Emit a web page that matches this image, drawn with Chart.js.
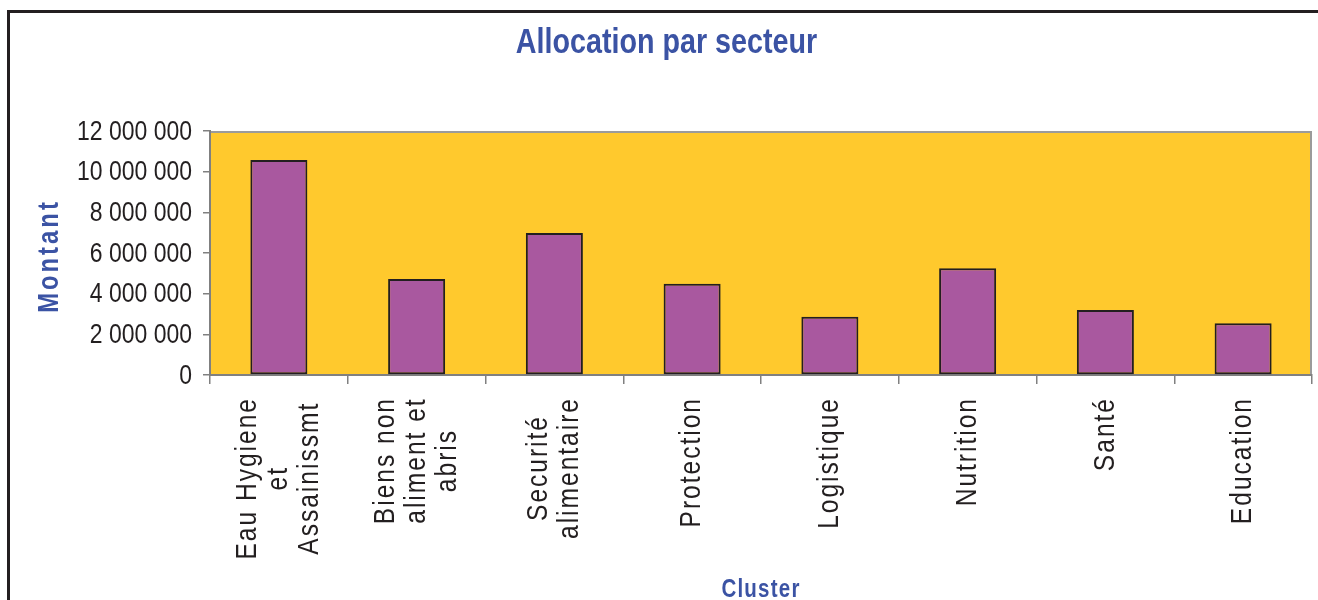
<!DOCTYPE html>
<html>
<head>
<meta charset="utf-8">
<script src="https://cdn.jsdelivr.net/npm/chart.js@4.4.1/dist/chart.umd.min.js"></script>
<style>
  html, body { margin: 0; padding: 0; background: #fff; overflow: hidden; }
  #wrap { position: relative; width: 1318px; height: 600px; }
  #frame {
    position: absolute; left: 7px; top: 10px; width: 1400px; height: 700px;
    border-left: 3px solid #231F20; border-top: 3px solid #231F20;
    pointer-events: none;
  }
</style>
</head>
<body>
<div id="wrap">
  <canvas id="allocChart"></canvas>
  <div id="frame"></div>
</div>
<script>
// Clusters (one entry per bar, split on the lines shown under the axis)
const clusters = [
    ['Eau Hygiene', 'et', 'Assainissmt'],
    ['Biens non', 'aliment et', 'abris'],
    ['Securité', 'alimentaire'],
    ['Protection'],
    ['Logistique'],
    ['Nutrition'],
    ['Santé'],
    ['Education']
];
// Montant per cluster
const montants = [10570000, 4720000, 6980000, 4490000, 2870000, 5250000, 3200000, 2540000];
// Y axis tick labels, 0 to 12 000 000 by 2 000 000
const yTickLabels = ['0', '2 000 000', '4 000 000', '6 000 000', '8 000 000', '10 000 000', '12 000 000'];

const FONT = "'Liberation Sans', Arial, sans-serif";
const NARROW = 0.82; // the original uses a narrow face: squeeze along the reading direction
const BLUE = '#3B53A4';
const INK = '#231F20';
const AXIS = '#808080';

Chart.defaults.font.family = FONT;

// draw text squeezed along its reading direction
function narrowText(ctx, text, x, y, rot) {
    ctx.save();
    ctx.translate(x, y);
    if (rot) ctx.rotate(rot);
    ctx.scale(NARROW, 1);
    ctx.fillText(text, 0, 0);
    ctx.restore();
}

// yellow plot area with grey top/right border
const plotBg = {
    id: 'plotBg',
    beforeDraw(chart) {
        const { ctx, chartArea: a } = chart;
        ctx.save();
        ctx.fillStyle = '#FFC92D';
        ctx.fillRect(a.left, a.top, a.right - a.left, a.bottom - a.top);
        ctx.strokeStyle = '#9b9b9b';
        ctx.lineWidth = 2;
        ctx.beginPath();
        ctx.moveTo(a.left, a.top + 1);
        ctx.lineTo(a.right - 1, a.top + 1);
        ctx.lineTo(a.right - 1, a.bottom);
        ctx.stroke();
        ctx.restore();
    }
};

// title, tick labels and axis titles in the narrow look
const axisText = {
    id: 'axisText',
    afterDraw(chart) {
        const { ctx, chartArea: a } = chart;
        const xs = chart.scales.x;
        const ys = chart.scales.y;
        ctx.save();

        // title
        ctx.fillStyle = BLUE;
        ctx.font = 'bold 35px ' + FONT;
        ctx.textAlign = 'center';
        ctx.textBaseline = 'alphabetic';
        narrowText(ctx, 'Allocation par secteur', (21 + a.right) / 2, 53);

        // y tick labels
        ctx.fillStyle = INK;
        ctx.font = '28px ' + FONT;
        ctx.textAlign = 'right';
        ctx.textBaseline = 'middle';
        ys.ticks.forEach((t, i) => {
            narrowText(ctx, yTickLabels[i], a.left - 18, ys.getPixelForTick(i) + 1);
        });

        // category labels, rotated, lines centred on each other
        ctx.font = '30px ' + FONT;
        ctx.letterSpacing = '2.4px';
        ctx.textAlign = 'center';
        clusters.forEach((lines, i) => {
            const cx = xs.getPixelForValue(i);
            const w = Math.max(...lines.map(l => ctx.measureText(l).width)) * NARROW;
            lines.forEach((l, j) => {
                const lx = cx + (j - (lines.length - 1) / 2) * 31;
                narrowText(ctx, l, lx, a.bottom + 22 + w / 2, -Math.PI / 2);
            });
        });

        // Montant
        ctx.fillStyle = BLUE;
        ctx.font = 'bold 29px ' + FONT;
        ctx.letterSpacing = '3.7px';
        narrowText(ctx, 'Montant', 50, (a.top + a.bottom) / 2 + 3, -Math.PI / 2);

        // Cluster
        ctx.font = 'bold 25px ' + FONT;
        ctx.letterSpacing = '1.5px';
        ctx.textBaseline = 'alphabetic';
        narrowText(ctx, 'Cluster', (a.left + a.right) / 2, 597);
        ctx.restore();
    }
};

const ctx = document.getElementById('allocChart').getContext('2d');
const allocChart = new Chart(ctx, {
    type: 'bar',
    data: {
        labels: clusters,
        datasets: [{
            label: 'Montant',
            data: montants,
            backgroundColor: '#A9589F',
            borderColor: INK,
            borderWidth: 2,
            borderSkipped: false,
            barPercentage: 0.414,
            categoryPercentage: 1
        }]
    },
    options: {
        responsive: true,
        maintainAspectRatio: false,
        animation: false,
        layout: {
            padding: { left: 21, right: 6, top: 131, bottom: 0 }
        },
        plugins: {
            legend: { display: false },
            tooltip: { enabled: false },
            title: { display: false }
        },
        scales: {
            x: {
                grid: {
                    display: true,
                    drawOnChartArea: false,
                    drawTicks: true,
                    tickLength: 9,
                    color: AXIS,
                    lineWidth: 1.5,
                    offset: true
                },
                border: { display: true, color: AXIS, width: 2 },
                ticks: { display: false, autoSkip: false },
                afterFit(scale) { scale.height = 225; }
            },
            y: {
                min: 0,
                max: 12000000,
                grid: {
                    drawOnChartArea: false,
                    drawTicks: true,
                    tickLength: 7,
                    color: AXIS,
                    lineWidth: 1.5
                },
                border: { display: true, color: AXIS, width: 2 },
                ticks: {
                    stepSize: 2000000,
                    color: 'transparent',
                    font: { size: 28 },
                    callback: (v, i) => yTickLabels[i]
                },
                afterFit(scale) { scale.width = 189; }
            }
        }
    },
    plugins: [plotBg, axisText]
});
</script>
</body>
</html>
